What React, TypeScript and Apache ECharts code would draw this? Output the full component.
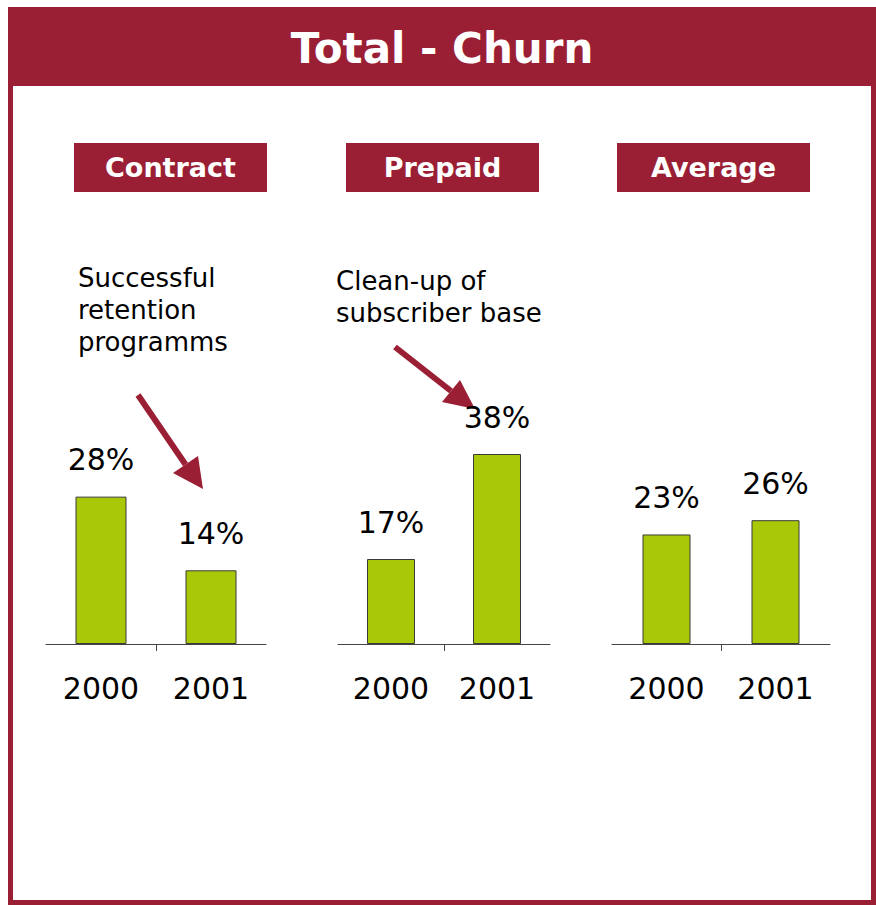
import React, { useEffect, useRef } from "react";
import * as echarts from "echarts";

const years = ["2000", "2001"];
const contractChurn = [28, 14];
const prepaidChurn = [17, 38];
const averageChurn = [23, 26];
const panelTitles = ["Contract", "Prepaid", "Average"];
const chartTitle = "Total - Churn";
const contractNote = "Successful\nretention\nprogramms";
const prepaidNote = "Clean-up of\nsubscriber base";

const RED = "#9b1f34";
const GREEN = "#a9c808";
const FONT = "DejaVu Sans";

export default function App() {
  const ref = useRef<HTMLDivElement>(null);

  useEffect(() => {
    if (!ref.current) return;
    const chart = echarts.init(ref.current, null, { renderer: "svg" });

    const panels = [
      { data: contractChurn, left: 46, width: 220, barWidth: 51, max: 38 },
      { data: prepaidChurn, left: 338, width: 212, barWidth: 48, max: 40 },
      { data: averageChurn, left: 612, width: 218, barWidth: 48, max: 42 },
    ];

    const grids = panels.map((p) => ({
      left: p.left,
      width: p.width,
      top: 444,
      height: 200,
      containLabel: false,
    }));

    const xAxes: any[] = [];
    panels.forEach((p, i) => {
      xAxes.push({
        type: "category",
        gridIndex: i,
        position: "bottom",
        data: years,
        boundaryGap: true,
        axisLine: { show: true, lineStyle: { color: "#444", width: 1 } },
        axisTick: { show: false },
        axisLabel: {
          show: true,
          margin: 29,
          color: "#000",
          fontSize: 30,
          fontFamily: FONT,
        },
        splitLine: { show: false },
      });
    });
    panels.forEach((p, i) => {
      xAxes.push({
        type: "category",
        gridIndex: i,
        position: "bottom",
        data: ["", "", ""],
        boundaryGap: false,
        axisLine: { show: false },
        axisLabel: { show: false },
        axisTick: {
          show: true,
          interval: (idx: number) => idx === 1,
          length: 7,
          lineStyle: { color: "#444", width: 1 },
        },
        splitLine: { show: false },
      });
    });

    const yAxes = panels.map((p, i) => ({
      type: "value",
      gridIndex: i,
      min: 0,
      max: p.max,
      show: false,
    }));

    const series = panels.map((p, i) => ({
      type: "bar",
      xAxisIndex: i,
      yAxisIndex: i,
      data: p.data,
      barWidth: p.barWidth,
      itemStyle: { color: GREEN, borderColor: "#3a3a3a", borderWidth: 1 },
      label: {
        show: true,
        position: "top",
        distance: 22,
        formatter: "{c}%",
        color: "#000",
        fontSize: 30,
        fontFamily: FONT,
      },
    }));

    const boxes = [
      { x: 74, w: 193, cx: 170.5 },
      { x: 346, w: 193, cx: 442.5 },
      { x: 617, w: 193, cx: 713.5 },
    ];

    const graphic: any[] = [
      {
        type: "rect",
        shape: { x: 10.5, y: 9.5, width: 863, height: 893 },
        style: { fill: "#fff", stroke: RED, lineWidth: 5 },
        z: -10,
      },
      {
        type: "rect",
        shape: { x: 8, y: 7, width: 868, height: 79 },
        style: { fill: RED },
      },
      {
        type: "text",
        x: 442,
        y: 48,
        style: {
          text: chartTitle,
          fill: "#fff",
          fontSize: 42,
          fontWeight: "bold",
          fontFamily: FONT,
          align: "center",
          verticalAlign: "middle",
          textAlign: "center",
          textVerticalAlign: "middle",
        },
      },
    ];

    boxes.forEach((b, i) => {
      graphic.push({
        type: "rect",
        shape: { x: b.x, y: 143, width: b.w, height: 49 },
        style: { fill: RED },
      });
      graphic.push({
        type: "text",
        x: b.cx,
        y: 167,
        style: {
          text: panelTitles[i],
          fill: "#fff",
          fontSize: 27,
          fontWeight: "bold",
          fontFamily: FONT,
          align: "center",
          verticalAlign: "middle",
          textAlign: "center",
          textVerticalAlign: "middle",
        },
      });
    });

    const notes = [
      { text: contractNote, x: 78, y: 262 },
      { text: prepaidNote, x: 336, y: 265 },
    ];
    notes.forEach((n) => {
      graphic.push({
        type: "text",
        x: n.x,
        y: n.y,
        style: {
          text: n.text,
          fill: "#000",
          fontSize: 26,
          lineHeight: 32,
          fontFamily: FONT,
          align: "left",
          verticalAlign: "top",
          textAlign: "left",
          textVerticalAlign: "top",
        },
      });
    });

    const arrows = [
      { start: [138, 395], mid: [185.5, 464.5], tip: [203, 489], c1: [173, 473], c2: [198, 456] },
      { start: [395, 347], mid: [451, 391], tip: [475, 409], c1: [442, 402], c2: [460, 380] },
    ];
    arrows.forEach((a) => {
      graphic.push({
        type: "line",
        shape: { x1: a.start[0], y1: a.start[1], x2: a.mid[0], y2: a.mid[1] },
        style: { stroke: RED, lineWidth: 6 },
      });
      graphic.push({
        type: "polygon",
        shape: { points: [a.tip, a.c1, a.c2] },
        style: { fill: RED },
      });
    });

    chart.setOption({
      animation: false,
      backgroundColor: "#fff",
      grid: grids,
      xAxis: xAxes,
      yAxis: yAxes,
      series,
      graphic,
    });

    return () => chart.dispose();
  }, []);

  return (
    <div
      ref={ref}
      style={{ position: "absolute", left: 0, top: 0, width: 876, height: 905 }}
    />
  );
}
